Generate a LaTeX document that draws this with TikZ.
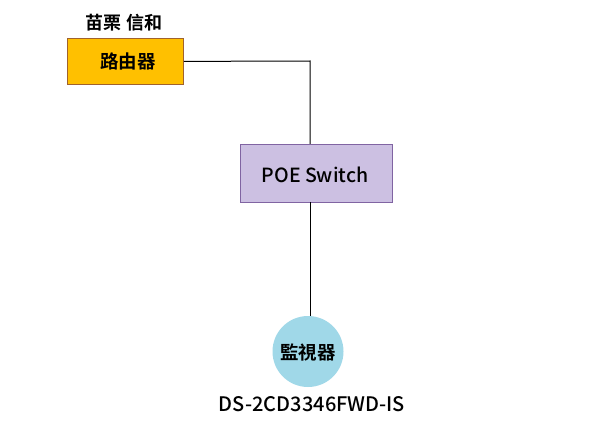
\documentclass[tikz,border=0pt]{standalone}
\usepackage{fontspec}
\setmainfont{Noto Sans CJK TC}
\newfontfamily\cjkbold{Noto Sans CJK TC Bold}
\newfontfamily\latinmed{Noto Sans CJK TC Medium}
\definecolor{routerfill}{HTML}{FFC000}
\definecolor{routerline}{HTML}{A0622D}
\definecolor{switchfill}{HTML}{CCC0E2}
\definecolor{switchline}{HTML}{8064A2}
\definecolor{camfill}{HTML}{A0D8E8}
\tikzset{
  boxnode/.style={draw, line width=0.8pt, inner sep=0pt, anchor=north west},
  lbl/.style={inner sep=0pt},
  conn/.style={draw=black, line width=1pt}
}
\begin{document}
\begin{tikzpicture}[x=1pt,y=-1pt]
\useasboundingbox[fill=white] (0,0) rectangle (590,428);
\node[boxnode, fill=routerfill, draw=routerline, minimum width=116pt, minimum height=46pt] (router) at (67,38) {};
\node[lbl, font=\fontsize{18.5}{20}\cjkbold] (routertext) at (128,61) {路由器};
\node[lbl, font=\fontsize{18}{20}\cjkbold] (site) at (124,23) {苗栗 信和};
\node[boxnode, fill=switchfill, draw=switchline, minimum width=152pt, minimum height=58pt] (switch) at (240,144) {};
\node[lbl, font=\fontsize{19.5}{22}\latinmed] (switchtext) at (315,175) {POE Switch};
\node[circle, fill=camfill, minimum size=71pt, inner sep=0pt] (cam) at (308,351.5) {};
\node[lbl, font=\fontsize{18.5}{20}\cjkbold] (camtext) at (308,352) {監視器};
\node[lbl, font=\fontsize{20}{22}\latinmed] (model) at (312,404) {DS-2CD3346FWD-IS};
\coordinate (bend) at (310,61);
\coordinate (swtop) at (310,144);
\coordinate (swbot) at (310,202);
\coordinate (camtop) at (310,316);
\draw[conn] (router.east) -- (bend) -- (swtop);
\draw[conn] (swbot) -- (camtop);
\end{tikzpicture}
\end{document}
